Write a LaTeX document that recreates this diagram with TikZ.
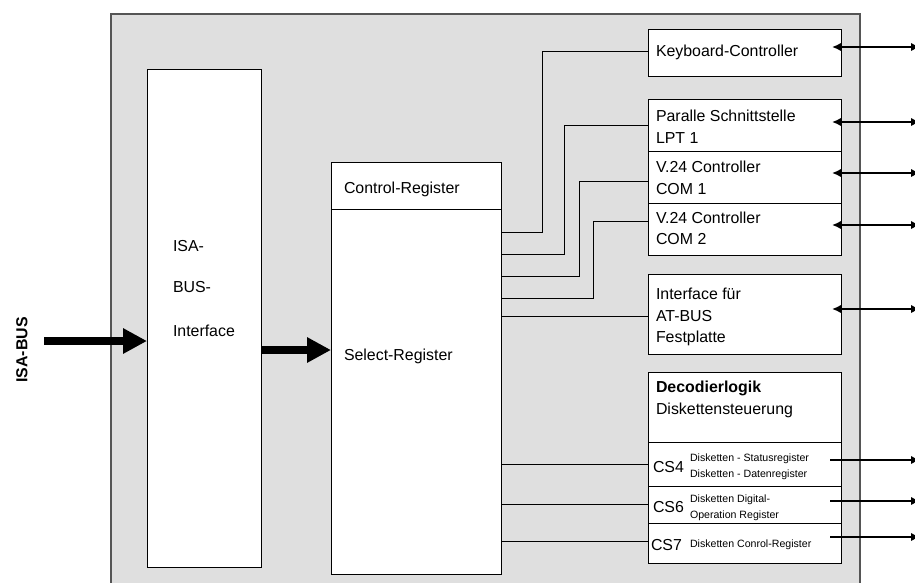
\documentclass[tikz,border=0pt]{standalone}
\usepackage{fontspec}
\setmainfont{Liberation Sans}
\usetikzlibrary{arrows.meta}
\definecolor{panel}{HTML}{DFDFDF}
\definecolor{panelline}{HTML}{555555}
\tikzset{
  box/.style={draw=black, line width=0.9pt, fill=white, inner sep=0pt, outer sep=0pt},
  txt/.style={anchor=west, inner sep=0pt, outer sep=0pt, font=\fontsize{15.9}{19}\selectfont, text height=11.4pt, text depth=0pt},
  small/.style={anchor=west, inner sep=0pt, outer sep=0pt, font=\fontsize{10.6}{13}\selectfont, text height=7.6pt, text depth=0pt},
  wire/.style={draw=black, line width=0.9pt},
  bigarrow/.style={line width=8pt, -{Triangle[length=24pt,width=24pt]}},
  biarrow/.style={line width=2.8pt, {Latex[length=9pt,width=8.5pt]}-{Latex[length=9pt,width=8.5pt]}},
  outarrow/.style={line width=2.8pt, -{Latex[length=9pt,width=8.5pt]}}
}
\begin{document}
\begin{tikzpicture}[x=1pt,y=-1pt]
\path[use as bounding box] (0,0) rectangle (915,582);
\clip (0,0) rectangle (915,582);
% outer panel
\node[draw=panelline, fill=panel, line width=1.2pt, minimum width=749pt, minimum height=600pt, inner sep=0pt] (panel) at (485.5,314) {};
% boxes
\node[box, minimum width=114pt, minimum height=498pt] (isa) at (204,318) {};
\node[box, minimum width=170pt, minimum height=47pt] (ctrl) at (416,185.5) {};
\node[box, minimum width=170pt, minimum height=365pt] (sel) at (416,391.5) {};
\node[box, minimum width=193pt, minimum height=47pt] (kb) at (744.5,52.5) {};
\node[box, minimum width=193pt, minimum height=52pt] (lpt) at (744.5,125) {};
\node[box, minimum width=193pt, minimum height=52pt] (com1) at (744.5,177) {};
\node[box, minimum width=193pt, minimum height=52pt] (com2) at (744.5,229) {};
\node[box, minimum width=193pt, minimum height=80pt] (at) at (744.5,314) {};
\node[box, minimum width=193pt, minimum height=70pt] (dec) at (744.5,407) {};
\node[box, minimum width=193pt, minimum height=44pt] (cs4) at (744.5,464) {};
\node[box, minimum width=193pt, minimum height=37pt] (cs6) at (744.5,504.5) {};
\node[box, minimum width=193pt, minimum height=40pt] (cs7) at (744.5,543) {};
% texts
\node[txt] (t1) at (173,246) {ISA-};
\node[txt] (t2) at (173,287) {BUS-};
\node[txt] (t3) at (173,331) {Interface};
\node[txt] (t4) at (344,188) {Control-Register};
\node[txt] (t5) at (344,355) {Select-Register};
\node[txt] (t6) at (656,51) {Keyboard-Controller};
\node[txt] (t7) at (656,116) {Paralle Schnittstelle};
\node[txt] (t8) at (656,138) {LPT 1};
\node[txt] (t9) at (656,167) {V.24 Controller};
\node[txt] (t10) at (656,189) {COM 1};
\node[txt] (t11) at (656,218) {V.24 Controller};
\node[txt] (t12) at (656,239) {COM 2};
\node[txt] (t13) at (656,294) {Interface für};
\node[txt] (t14) at (656,316) {AT-BUS};
\node[txt] (t15) at (656,337) {Festplatte};
\node[txt, font=\fontsize{15.9}{19}\selectfont\bfseries] (t16) at (656,387) {Decodierlogik};
\node[txt] (t17) at (656,409) {Diskettensteuerung};
\node[txt] (t18) at (653,467) {CS4};
\node[small] (t19) at (690,458) {Disketten - Statusregister};
\node[small] (t20) at (690,474) {Disketten - Datenregister};
\node[txt] (t21) at (653,507) {CS6};
\node[small] (t22) at (690,499) {Disketten Digital-};
\node[small] (t23) at (690,515) {Operation Register};
\node[txt] (t24) at (651,545) {CS7};
\node[small] (t25) at (690,544) {Disketten Conrol-Register};
\node[rotate=90, inner sep=0pt, font=\fontsize{15.9}{19}\selectfont\bfseries] (lbl) at (22,350) {ISA-BUS};
% wires from select register
\draw[wire] (sel.north east) ++(0,23) -- ++(41,0) |- ([yshift=1.5pt]kb.west);
\draw[wire] (sel.north east) ++(0,45) -- ++(63,0) |- (lpt.west);
\draw[wire] (sel.north east) ++(0,67) -- ++(78,0) |- ([yshift=-4pt]com1.west);
\draw[wire] (sel.north east) ++(0,89) -- ++(92,0) |- ([yshift=8pt]com2.west);
\coordinate (atc) at ([yshift=-2pt]at.west);
\draw[wire] (atc) -- (atc -| sel.east);
\draw[wire] (cs4.west) -- (cs4.west -| sel.east);
\draw[wire] (cs6.west) -- (cs6.west -| sel.east);
\coordinate (cs7c) at ([yshift=2pt]cs7.west);
\draw[wire] (cs7c) -- (cs7c -| sel.east);
% bus arrows
\coordinate (busin) at (44,341);
\draw[bigarrow] (busin) -- (busin -| isa.west);
\coordinate (busmid) at (261,350);
\draw[bigarrow] (busmid) -- (busmid -| sel.west);
% external arrows
\coordinate (a1) at (832,47);  \coordinate (b1) at (920,47);
\coordinate (a2) at (832,122); \coordinate (b2) at (920,122);
\coordinate (a3) at (832,173); \coordinate (b3) at (920,173);
\coordinate (a4) at (832,225); \coordinate (b4) at (920,225);
\coordinate (a5) at (832,309); \coordinate (b5) at (920,309);
\draw[biarrow] (a1) -- (b1);
\draw[biarrow] (a2) -- (b2);
\draw[biarrow] (a3) -- (b3);
\draw[biarrow] (a4) -- (b4);
\draw[biarrow] (a5) -- (b5);
\coordinate (c1) at (830,460); \coordinate (d1) at (920,460);
\coordinate (c2) at (830,501); \coordinate (d2) at (920,501);
\coordinate (c3) at (830,537); \coordinate (d3) at (920,537);
\draw[outarrow] (c1) -- (d1);
\draw[outarrow] (c2) -- (d2);
\draw[outarrow] (c3) -- (d3);
\end{tikzpicture}
\end{document}
